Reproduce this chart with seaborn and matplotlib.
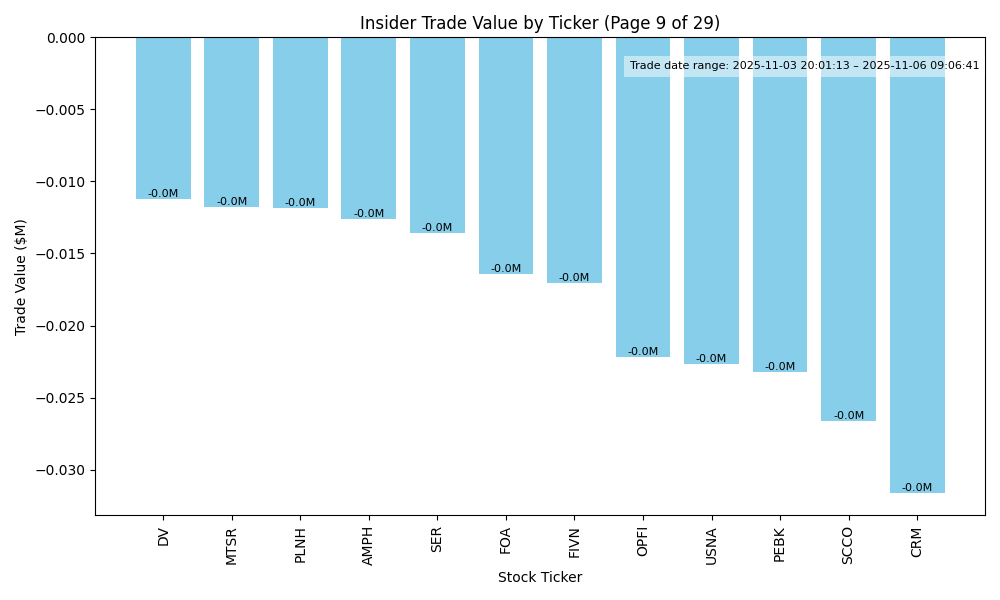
import pandas as pd
import matplotlib
matplotlib.use("Agg")
import matplotlib.pyplot as plt
import seaborn as sns

# --- DATA ---
tickers = ['DV', 'MTSR', 'PLNH', 'AMPH', 'SER', 'FOA', 'FIVN', 'OPFI', 'USNA', 'PEBK', 'SCCO', 'CRM']
values = [-0.01123, -0.01179, -0.01186, -0.01263, -0.01360, -0.01640,
          -0.01702, -0.02219, -0.02267, -0.02323, -0.02665, -0.03160]
date_range = "Trade date range: 2025-11-03 20:01:13 \u2013 2025-11-06 09:06:41"

df = pd.DataFrame({'Ticker': tickers, 'Value': values})

fig, ax = plt.subplots(figsize=(10, 6), dpi=100)
sns.barplot(data=df, x='Ticker', y='Value', color='skyblue', saturation=1, width=0.8, ax=ax)

# value labels at bar ends
for i, v in enumerate(df['Value']):
    ax.text(i, v, f"{v:.1f}M", ha='center', va='bottom', fontsize=8)

ax.text(0.994, 0.95, date_range, transform=ax.transAxes, ha='right', va='top',
        fontsize=8, bbox=dict(facecolor='white', alpha=0.5, edgecolor='none'))

# matplotlib-style 5% margins instead of seaborn's categorical limits
n = len(tickers)
span = (n - 1) + 0.8
ax.set_xlim(-0.4 - 0.05 * span, n - 1 + 0.4 + 0.05 * span)
ax.set_ylim(top=0)

ax.set_title("Insider Trade Value by Ticker (Page 9 of 29)")
ax.set_xlabel("Stock Ticker")
ax.set_ylabel("Trade Value ($M)")
plt.xticks(rotation=90)
plt.tight_layout()
plt.savefig("out.png")
